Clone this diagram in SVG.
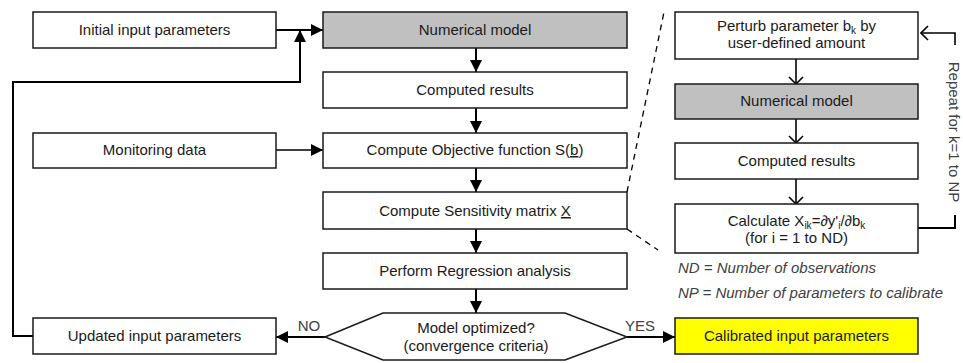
<svg xmlns="http://www.w3.org/2000/svg" width="963" height="363" viewBox="0 0 963 363">
<defs>
<marker id="fa" markerWidth="12" markerHeight="12" viewBox="0 0 12 12" refX="12" refY="6" orient="auto" markerUnits="userSpaceOnUse">
<path d="M0,0 L12,6 L0,12 Z" fill="#000"/>
</marker>
<marker id="oa" markerWidth="16" markerHeight="16" viewBox="0 0 16 16" refX="15" refY="8" orient="auto" markerUnits="userSpaceOnUse">
<path d="M8,1 L15,8 L8,15" fill="none" stroke="#000" stroke-width="1.6"/>
</marker>
<style>
.box{fill:#fff;stroke:#1a1a1a;stroke-width:1.5}
.gray{fill:#c0c0c0}
.yel{fill:#ffff00}
.t{font-family:"Liberation Sans",Arial,sans-serif;font-size:15px;fill:#1a1a1a;text-anchor:middle}
.lbl{font-family:"Liberation Sans",Arial,sans-serif;font-size:15px;fill:#404040;text-anchor:middle}
.note{font-family:"Liberation Sans",Arial,sans-serif;font-size:15px;font-style:italic;fill:#404040}
.c{fill:none;stroke:#000;stroke-width:2}
.c2{fill:none;stroke:#000;stroke-width:1.6}
.d{fill:none;stroke:#000;stroke-width:1.3;stroke-dasharray:6,5}
</style>
</defs>

<g id="connectors">
<path class="c" d="M276,30 H323" marker-end="url(#fa)"/>
<path class="c" d="M33,336 H13 V82 H300 V30" marker-end="url(#fa)"/>
<path class="c" d="M476,48 V72" marker-end="url(#fa)"/>
<path class="c" d="M476,108 V133" marker-end="url(#fa)"/>
<path class="c2" d="M276,150 H323" marker-end="url(#fa)"/>
<path class="c" d="M476,168 V192" marker-end="url(#fa)"/>
<path class="c" d="M476,229 V253" marker-end="url(#fa)"/>
<path class="c" d="M476,289 V313" marker-end="url(#fa)"/>
<path class="c" d="M325,337 H276" marker-end="url(#fa)"/>
<path class="c" d="M627,337 H675" marker-end="url(#fa)"/>
<path class="d" d="M627,192 L664,12"/>
<path class="d" d="M627,229 L658,250"/>
<path class="c2" d="M796,59 V84" marker-end="url(#oa)"/>
<path class="c2" d="M796,119 V143" marker-end="url(#oa)"/>
<path class="c2" d="M796,179 V204" marker-end="url(#oa)"/>
<path class="c" d="M918,228 H955 V215"/>
<path class="c2" d="M955,45 V33 H921" marker-end="url(#oa)"/>
</g>

<g id="initial">
<rect class="box" x="33" y="12" width="243" height="36"/>
<text class="t" x="154.5" y="35">Initial input parameters</text>
</g>
<g id="monitoring">
<rect class="box" x="33" y="133" width="243" height="35"/>
<text class="t" x="154.5" y="155">Monitoring data</text>
</g>
<g id="updated">
<rect class="box" x="33" y="318" width="243" height="36"/>
<text class="t" x="154.5" y="341">Updated input parameters</text>
</g>

<g id="numerical">
<rect class="box gray" x="323" y="12" width="304" height="36"/>
<text class="t" x="475" y="35">Numerical model</text>
</g>
<g id="computed">
<rect class="box" x="323" y="72" width="304" height="36"/>
<text class="t" x="475" y="95">Computed results</text>
</g>
<g id="objective">
<rect class="box" x="323" y="133" width="304" height="35"/>
<text class="t" x="475" y="155">Compute Objective function S(<tspan text-decoration="underline">b</tspan>)</text>
</g>
<g id="sensitivity">
<rect class="box" x="323" y="192" width="304" height="37"/>
<text class="t" x="475" y="216">Compute Sensitivity matrix <tspan text-decoration="underline">X</tspan></text>
</g>
<g id="regression">
<rect class="box" x="323" y="253" width="304" height="36"/>
<text class="t" x="475" y="276">Perform Regression analysis</text>
</g>
<g id="decision">
<polygon class="box" points="325,337 383,313 565,313 627,337 565,360 383,360"/>
<text class="t" x="476" y="333">Model optimized?</text>
<text class="t" x="476" y="351">(convergence criteria)</text>
<text class="lbl" x="309" y="331">NO</text>
<text class="lbl" x="640" y="331">YES</text>
</g>

<g id="perturb">
<rect class="box" x="675" y="12" width="243" height="47"/>
<text class="t" x="796.5" y="31">Perturb parameter b<tspan font-size="10" dy="3">k</tspan><tspan dy="-3"> by</tspan></text>
<text class="t" x="796.5" y="48">user-defined amount</text>
</g>
<g id="numerical2">
<rect class="box gray" x="675" y="84" width="243" height="35"/>
<text class="t" x="796.5" y="106">Numerical model</text>
</g>
<g id="computed2">
<rect class="box" x="675" y="143" width="243" height="36"/>
<text class="t" x="796.5" y="166">Computed results</text>
</g>
<g id="calculate">
<rect class="box" x="675" y="204" width="243" height="49"/>
<text class="t" x="796.5" y="226">Calculate X<tspan font-size="10" dy="3">ik</tspan><tspan dy="-3">=∂y'</tspan><tspan font-size="10" dy="3">i</tspan><tspan dy="-3">/∂b</tspan><tspan font-size="10" dy="3">k</tspan></text>
<text class="t" x="796.5" y="243">(for i = 1 to ND)</text>
</g>
<g id="calibrated">
<rect class="box yel" x="675" y="318" width="243" height="36"/>
<text class="t" x="796.5" y="341">Calibrated input parameters</text>
</g>

<g id="notes">
<text class="note" x="678" y="273">ND = Number of observations</text>
<text class="note" x="678" y="298">NP = Number of parameters to calibrate</text>
<text class="lbl" transform="translate(949,132) rotate(90)">Repeat for k=1 to NP</text>
</g>
</svg>
